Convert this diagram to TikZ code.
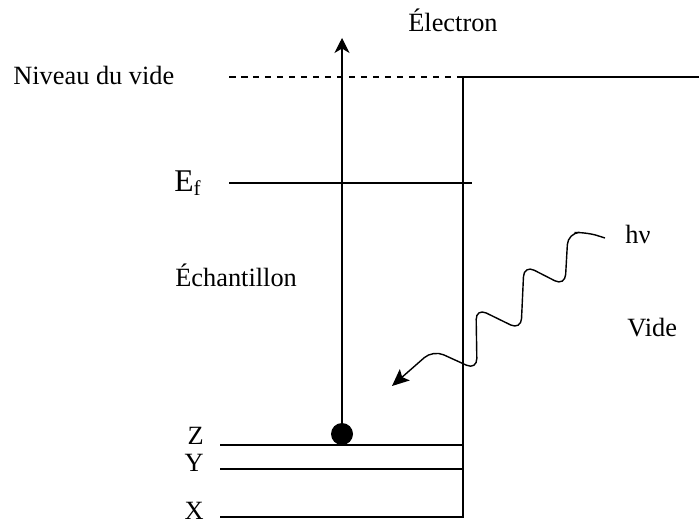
\documentclass[tikz,border=0pt]{standalone}
\usepackage{fontspec}
\setmainfont{Liberation Serif}
\usepackage{tikz}
\usetikzlibrary{arrows.meta, positioning, calc}

\tikzset{
	niveau/.style={line width=0.6pt},
	videdash/.style={line width=0.6pt, dash pattern=on 1.3mm off 1.1mm},
	etiq/.style={inner sep=0pt, font=\fontsize{15}{18}\selectfont},
	photon/.style={line width=0.8pt, rounded corners=2.3mm, -{Stealth[length=3.4mm,width=3mm,inset=0.7mm]}}
}

\begin{document}
\begin{tikzpicture}[x=0.02cm, y=-0.02cm]
	\useasboundingbox (0,0) rectangle (699,523);
	\coordinate (vtop) at (463,77);
	\coordinate (vbot) at (463,517);
	\coordinate (vright) at (699,77);
	\coordinate (vleft) at (229,77);
	\coordinate (fleft) at (229,183);
	\coordinate (fright) at (472,183);
	\coordinate (zleft) at (220,445);
	\coordinate (zright) at (463,445);
	\coordinate (yleft) at (220,469);
	\coordinate (yright) at (463,469);
	\coordinate (xleft) at (220,517);
	\coordinate (etop) at (342,38);
	\coordinate (wstart) at (605,238);
	\coordinate (wend) at (392,386);
	\node[etiq, anchor=base west] (electron) at (408,32) {Électron};
	\node[etiq, anchor=base west] (nvide) at (13,85) {Niveau du vide};
	\node[inner sep=0pt, anchor=base west, font=\fontsize{18}{20}\selectfont] (ef) at (174,192) {E\raisebox{-0.25ex}{\fontsize{12}{12}\selectfont f}};
	\node[etiq, anchor=base west] (echant) at (175,287) {Échantillon};
	\node[etiq, anchor=base west] (hnu) at (625,244) {hν};
	\node[etiq, anchor=base west] (vide) at (627,337) {Vide};
	\node[etiq, anchor=base east] (zlab) at (204,444) {Z};
	\node[etiq, anchor=base east] (ylab) at (204,471) {Y};
	\node[etiq, anchor=base east] (xlab) at (204,519) {X};
	\node[circle, fill=black, inner sep=0pt, minimum size=22*0.02cm] (el) at (342,434) {};
	\draw[videdash] (vleft) -- (vtop);
	\draw[niveau] (vright) -- (vtop) -- (vbot) -- (xleft);
	\draw[niveau] (fleft) -- (fright);
	\draw[niveau] (zleft) -- (zright);
	\draw[niveau] (yleft) -- (yright);
	\draw[niveau, -{Stealth[length=3mm,width=3mm,inset=0.9mm]}] (el.north) -- (etop);
	\draw[photon] (wstart) -- (586,232) -- (568,233) -- (565,286) -- (524,265)
		-- (521,330) -- (476,308) -- (477,370) -- (433,350) -- (wend);
\end{tikzpicture}
\end{document}
